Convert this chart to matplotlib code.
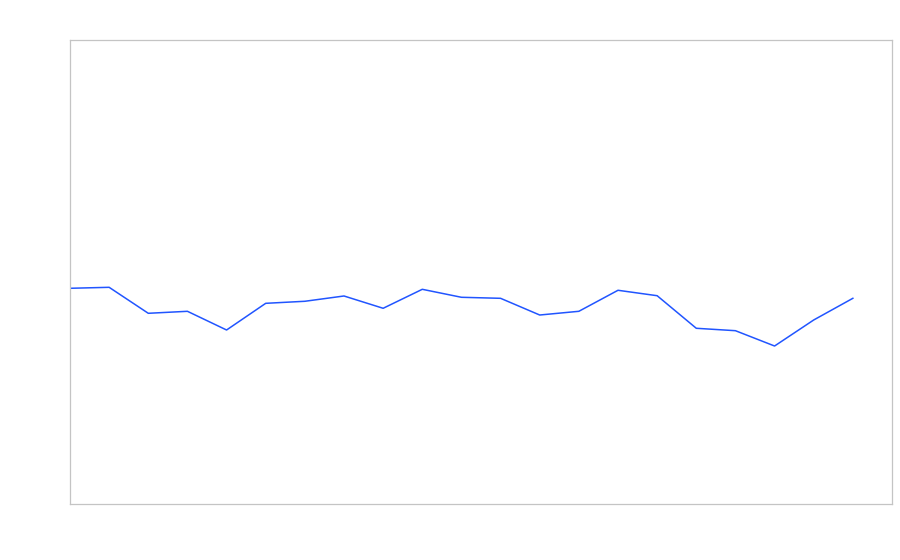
import matplotlib
matplotlib.use("Agg")
import matplotlib.pyplot as plt

x_index = list(range(21))
values = [46.49, 46.70, 41.10, 41.53, 37.50, 43.25, 43.69, 44.83, 42.18, 46.27,
          44.55, 44.33, 40.73, 41.53, 46.06, 44.89, 37.87, 37.35, 34.05, 39.66, 44.33]

fig = plt.figure(figsize=(9, 5.6), dpi=100)
ax = fig.add_axes([70/900, 1-504/560, 822/900, 464/560])
ax.plot(x_index, values, color="#2155ff", linewidth=1.1)
ax.set_xlim(0, 21)
ax.set_ylim(0, 100)
ax.set_xticks([])
ax.set_yticks([])
for s in ax.spines.values():
    s.set_color("#c4c4c4")
    s.set_linewidth(0.9)
fig.savefig("out.png", dpi=100)
